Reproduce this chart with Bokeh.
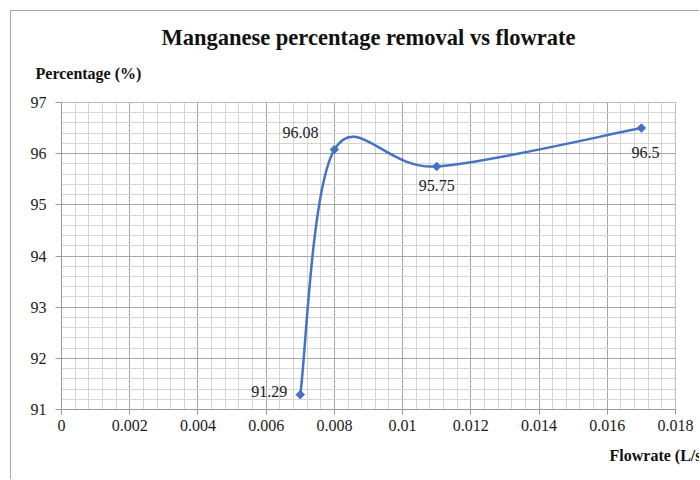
import numpy as np
from bokeh.plotting import figure
from bokeh.models import FixedTicker, CustomJSTickFormatter, Range1d, Title
from bokeh.core.properties import value
from bokeh.embed import file_html
from bokeh.resources import INLINE

# ---- data ----
flowrate = [0.007, 0.008, 0.011, 0.017]
removal = [91.29, 96.08, 95.75, 96.5]
point_labels = ["91.29", "96.08", "95.75", "96.5"]

x_ticks = [0, 0.002, 0.004, 0.006, 0.008, 0.010, 0.012, 0.014, 0.016, 0.018]
x_tick_labels = ["0", "0.002", "0.004", "0.006", "0.008", "0.01", "0.012", "0.014", "0.016", "0.018"]
y_ticks = [91, 92, 93, 94, 95, 96, 97]
y_tick_labels = ["91", "92", "93", "94", "95", "96", "97"]

title_text = "Manganese percentage removal vs flowrate"
x_title = "Flowrate (L/s)"
y_title = "Percentage (%)"

# ---- styles ----
FONT = "Liberation Serif"
LINE = "#4472C4"
MAJOR = "#a6a6a6"
MINOR = "#d4d4d4"

# smoothed (Excel-like) bezier segments built from the data points
def smooth_segments(xs, ys):
    n = len(xs)
    segs = {k: [] for k in ["x0", "y0", "x1", "y1", "cx0", "cy0", "cx1", "cy1"]}
    for i in range(n - 1):
        p0 = (xs[max(i - 1, 0)], ys[max(i - 1, 0)])
        p1 = (xs[i], ys[i])
        p2 = (xs[i + 1], ys[i + 1])
        p3 = (xs[min(i + 2, n - 1)], ys[min(i + 2, n - 1)])
        segs["x0"].append(p1[0]); segs["y0"].append(p1[1])
        segs["x1"].append(p2[0]); segs["y1"].append(p2[1])
        segs["cx0"].append(p1[0] + (p2[0] - p0[0]) / 6)
        segs["cy0"].append(p1[1] + (p2[1] - p0[1]) / 6)
        segs["cx1"].append(p2[0] - (p3[0] - p1[0]) / 6)
        segs["cy1"].append(p2[1] - (p3[1] - p1[1]) / 6)
    return segs

p = figure(width=689, height=469, output_backend="svg", toolbar_location=None,
           x_range=Range1d(0, 0.018), y_range=Range1d(91, 97),
           min_border_left=50, min_border_right=25, min_border_top=91, min_border_bottom=71,
           background_fill_color="white", border_fill_color="white")
p.title = None
p.margin = (10, 0, 0, 10)
p.styles = {"border-top": "1px solid #a6a6a6", "border-left": "1px solid #a6a6a6"}
p.outline_line_color = MAJOR

fmt_code = """
const i = tvals.findIndex(t => Math.abs(t - tick) < 1e-9);
return i >= 0 ? tlabels[i] : "";
"""
p.xaxis.ticker = FixedTicker(ticks=x_ticks, minor_ticks=list(np.arange(0, 0.018 + 1e-9, 0.0004)))
p.yaxis.ticker = FixedTicker(ticks=y_ticks, minor_ticks=list(np.arange(91, 97 + 1e-9, 0.2)))
p.xaxis.formatter = CustomJSTickFormatter(args=dict(tvals=x_ticks, tlabels=x_tick_labels), code=fmt_code)
p.yaxis.formatter = CustomJSTickFormatter(args=dict(tvals=y_ticks, tlabels=y_tick_labels), code=fmt_code)

for ax in (p.xaxis, p.yaxis):
    ax.axis_line_color = "#999999"
    ax.major_tick_line_color = "#999999"
    ax.major_tick_in = 0
    ax.minor_tick_in = 0
    ax.minor_tick_out = 0
    ax.major_label_text_font = FONT
    ax.major_label_text_font_size = "16px"
    ax.major_label_text_color = "#1a1a1a"
p.xaxis.major_tick_out = 5
p.yaxis.major_tick_out = 6
p.xaxis.major_label_standoff = 5
p.yaxis.major_label_standoff = 9

p.grid.grid_line_color = MAJOR
p.grid.minor_grid_line_color = MINOR

segs = smooth_segments(flowrate, removal)
p.bezier(x0=segs["x0"], y0=segs["y0"], x1=segs["x1"], y1=segs["y1"],
         cx0=segs["cx0"], cy0=segs["cy0"], cx1=segs["cx1"], cy1=segs["cy1"],
         line_color=LINE, line_width=2.5)
p.scatter(flowrate, removal, marker="square", size=6, angle=np.pi / 4,
          fill_color=LINE, line_color=LINE)

label_dx = [-13, -16, 0, 4]
label_dy = [-3, -17, 19, 24]
label_align = ["right", "right", "center", "center"]
p.text(x=flowrate, y=removal, text=point_labels, x_offset=label_dx, y_offset=label_dy,
       text_align=label_align, text_baseline="middle", text_font=value(FONT),
       text_font_size="16px", text_color="#1a1a1a")

# texts outside the frame as titles
p.add_layout(Title(text=y_title, align="left", offset=-26, standoff=42,
                   text_font=FONT, text_font_size="16px", text_font_style="bold",
                   text_color="#111111"), "above")
p.add_layout(Title(text=title_text, align="center", standoff=-17,
                   text_font=FONT, text_font_size="22.5px", text_font_style="bold",
                   text_color="#111111"), "above")
p.add_layout(Title(text=x_title, align="left", offset=548, standoff=23,
                   text_font=FONT, text_font_size="16px", text_font_style="bold",
                   text_color="#111111"), "below")

open("out.html", "w").write(file_html(p, INLINE))
